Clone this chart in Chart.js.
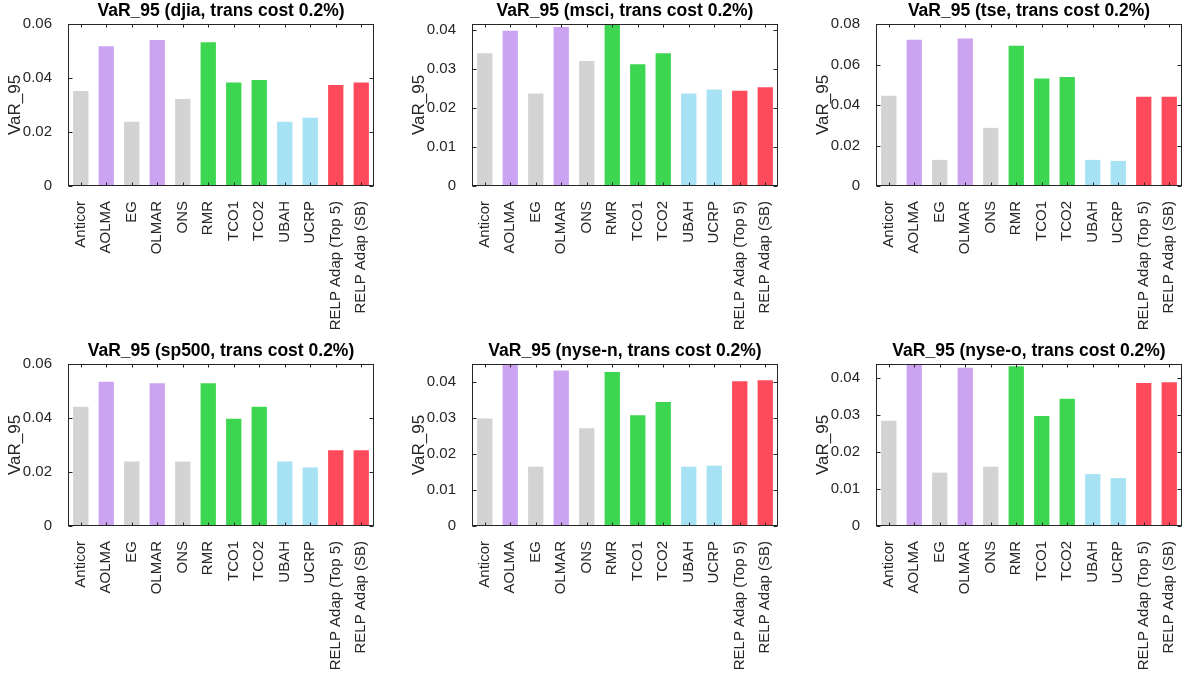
<!DOCTYPE html>
<html lang="en">
<head>
<meta charset="UTF-8">
<title>VaR_95 by market</title>
<script src="https://cdn.jsdelivr.net/npm/chart.js"></script>
<style>
  html, body {
    margin: 0;
    padding: 0;
    background: #fff;
    width: 1183px;
    height: 677px;
    overflow: hidden;
  }
  .panel {
    position: absolute;
  }
</style>
</head>
<body>

<canvas class="panel" id="c0"></canvas>
<canvas class="panel" id="c1"></canvas>
<canvas class="panel" id="c2"></canvas>
<canvas class="panel" id="c3"></canvas>
<canvas class="panel" id="c4"></canvas>
<canvas class="panel" id="c5"></canvas>

<script>
const methods = ['Anticor', 'AOLMA', 'EG', 'OLMAR', 'ONS', 'RMR', 'TCO1', 'TCO2',
  'UBAH', 'UCRP', 'RELP Adap (Top 5)', 'RELP Adap (SB)'];

const markets = ['djia', 'msci', 'tse', 'sp500', 'nyse-n', 'nyse-o'];

const djia  = [0.0352, 0.0518, 0.0238, 0.0541, 0.0322, 0.0532, 0.0383, 0.0393, 0.0238, 0.0253, 0.0374, 0.0383];
const msci  = [0.0340, 0.0398, 0.0237, 0.0407, 0.0320, 0.0420, 0.0312, 0.0340, 0.0237, 0.0247, 0.0244, 0.0253];
const tse   = [0.0446, 0.0722, 0.0129, 0.0729, 0.0287, 0.0692, 0.0531, 0.0538, 0.0129, 0.0124, 0.0441, 0.0441];
const sp500 = [0.0442, 0.0534, 0.0239, 0.0529, 0.0239, 0.0529, 0.0397, 0.0442, 0.0239, 0.0217, 0.0281, 0.0281];
const nyseN = [0.0299, 0.0460, 0.0165, 0.0433, 0.0272, 0.0429, 0.0308, 0.0345, 0.0165, 0.0168, 0.0403, 0.0406];
const nyseO = [0.0284, 0.0450, 0.0144, 0.0427, 0.0160, 0.0431, 0.0297, 0.0343, 0.0140, 0.0129, 0.0386, 0.0388];

// y-axis limits and tick steps per market
const yMax  = [0.06, 0.0415, 0.08, 0.06, 0.0451, 0.0437];
const yStep = [0.02, 0.01, 0.02, 0.02, 0.01, 0.01];

const seriesList = [djia, msci, tse, sp500, nyseN, nyseO];

const GRAY = '#d3d3d3', PURPLE = '#cba3f1', GREEN = '#3cd651', BLUE = '#a7e2f4', RED = '#ff4a5c';
const barColors = [GRAY, PURPLE, GRAY, PURPLE, GRAY, GREEN, GREEN, GREEN, BLUE, BLUE, RED, RED];

const AXIS = '#262626';
Chart.defaults.font.family = '"Liberation Sans", Arial, sans-serif';
Chart.defaults.color = AXIS;

// box around the axes with inward tick marks on all four sides
const boxTicks = {
  id: 'boxTicks',
  afterDatasetsDraw(chart) {
    const { ctx, chartArea: a, scales: { x, y } } = chart;
    const L = Math.round(a.left) + 0.5, R = Math.round(a.right) - 0.5;
    const T = Math.round(a.top) + 0.5, B = Math.round(a.bottom) - 0.5;
    ctx.save();
    ctx.strokeStyle = AXIS;
    ctx.lineWidth = 1;
    ctx.beginPath();
    y.ticks.forEach((t, i) => {
      const py = Math.round(y.getPixelForTick(i)) + 0.5;
      ctx.moveTo(L, py); ctx.lineTo(L + 4, py);
      ctx.moveTo(R, py); ctx.lineTo(R - 4, py);
    });
    x.ticks.forEach((t, i) => {
      const px = Math.round(x.getPixelForTick(i)) + 0.5;
      ctx.moveTo(px, B); ctx.lineTo(px, B - 3);
      ctx.moveTo(px, T); ctx.lineTo(px, T + 3);
    });
    ctx.stroke();
    ctx.strokeRect(L, T, R - L, B - T);
    ctx.restore();
  }
};

const colLeft = [0, 404, 808];
const rowTop = [0, 340];

seriesList.forEach((values, k) => {
  const canvas = document.getElementById('c' + k);
  canvas.width = 376;
  canvas.height = 340;
  canvas.style.left = colLeft[k % 3] + 'px';
  canvas.style.top = rowTop[Math.floor(k / 3)] + 'px';

  new Chart(canvas.getContext('2d'), {
    type: 'bar',
    data: {
      labels: methods,
      datasets: [{
        data: values,
        backgroundColor: barColors,
        borderWidth: 0,
        barPercentage: 0.6,
        categoryPercentage: 1.0
      }]
    },
    options: {
      responsive: false,
      animation: false,
      layout: { padding: { left: 0, right: 2, top: 0, bottom: 0 } },
      plugins: {
        legend: { display: false },
        tooltip: { enabled: false },
        title: {
          display: true,
          text: 'VaR_95 (' + markets[k] + ', trans cost 0.2%)',
          fullSize: false,
          color: '#000',
          font: { size: 17.5, weight: 'bold' },
          padding: { top: 1, bottom: 2 }
        }
      },
      scales: {
        x: {
          offset: true,
          grid: { display: false },
          border: { display: false },
          ticks: {
            autoSkip: false,
            maxRotation: 90,
            minRotation: 90,
            padding: 7,
            font: { size: 15 }
          },
          afterFit: (s) => {
            s.height = 154;
            s.paddingLeft = 0;
            s.paddingRight = 0;
          }
        },
        y: {
          min: 0,
          max: yMax[k],
          grid: { display: false },
          border: { display: false },
          ticks: {
            stepSize: yStep[k],
            includeBounds: false,
            padding: 8,
            font: { size: 15 },
            callback: (v) => String(+v.toFixed(3))
          },
          title: {
            display: true,
            text: 'VaR_95',
            font: { size: 17 },
            padding: { top: 5, bottom: 0 }
          },
          afterFit: (s) => {
            s.width = 68;
            s.paddingTop = 0;
            s.paddingBottom = 0;
          }
        }
      }
    },
    plugins: [boxTicks]
  });
});
</script>
</body>
</html>
